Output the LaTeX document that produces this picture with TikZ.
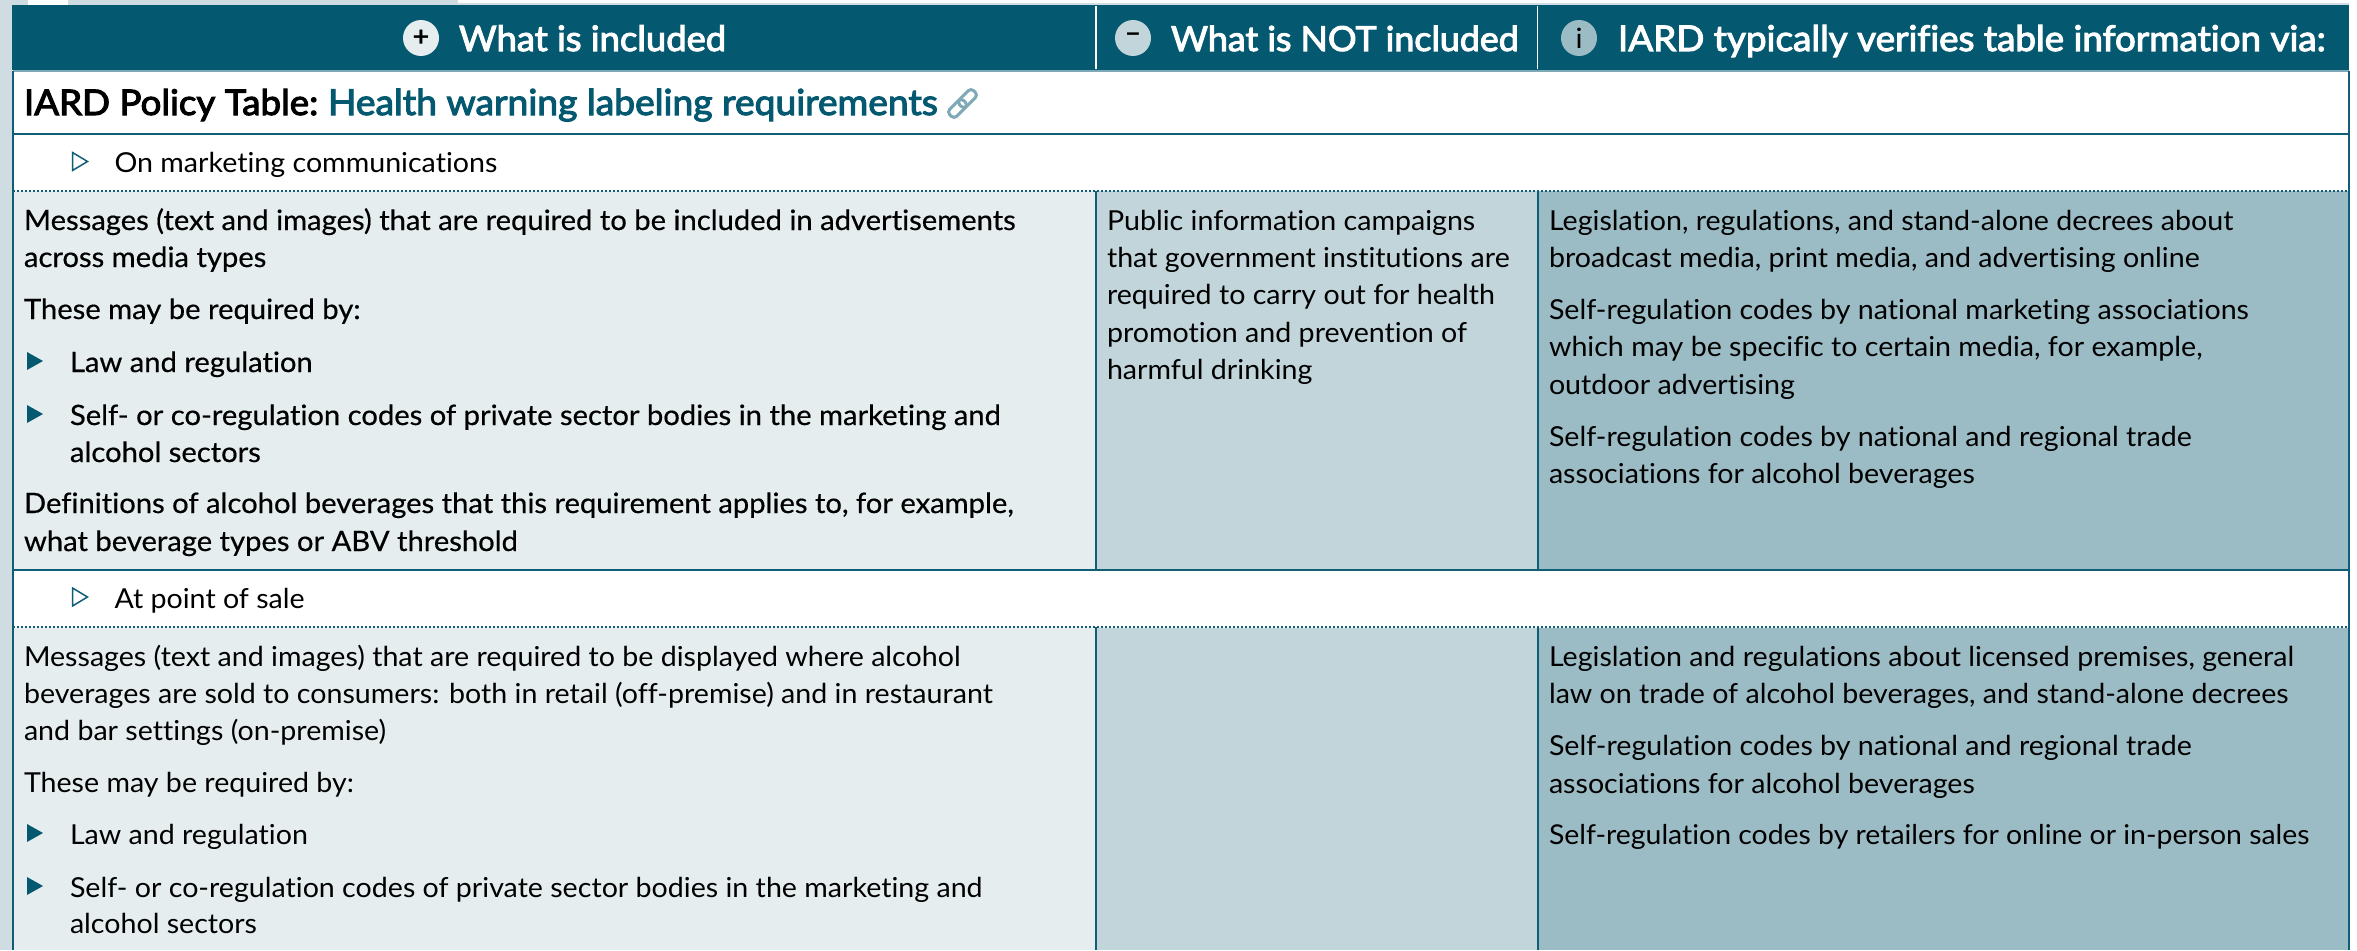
\documentclass[tikz,border=0pt]{standalone}
\usepackage{fontspec}
\setmainfont[FakeStretch=1.04,Ligatures=NoCommon]{Lato}
\newfontfamily\medfont[FakeStretch=1.04,FakeBold=0.5,Ligatures=NoCommon]{Lato}
\newfontfamily\demifont[FakeStretch=1.04,FakeBold=3,Ligatures=NoCommon]{Lato}
\definecolor{headbg}{HTML}{04586F}
\definecolor{cola}{HTML}{E5EDEF}
\definecolor{colb}{HTML}{C1D5DB}
\definecolor{colc}{HTML}{9BBBC5}
\definecolor{edge}{HTML}{0F5E76}
\definecolor{soft}{HTML}{7FA9B7}
\definecolor{strip}{HTML}{CFDDE2}
\newcommand\tl[4]{\node[txt] (#1) at (#2,#3) {#4};}
\newcommand\tm[4]{\node[txt,txtmed] (#1) at (#2,#3) {#4};}
\newcommand\bul[2]{\fill[headbg] (#1,#2-9) -- (#1+16,#2) -- (#1,#2+9) -- cycle;}
\newcommand\hollow[2]{\draw[edge,line width=1.5pt,line join=miter] (#1,#2-9) -- (#1+15,#2) -- (#1,#2+9) -- cycle;}
\tikzset{
 x=1pt,y=-1pt,
 txt/.style={anchor=base west,inner sep=0pt,outer sep=0pt,font=\fontsize{27.5}{30}\selectfont,text=black},
 txtmed/.style={font=\fontsize{28.05}{30}\medfont},
 headtxt/.style={anchor=base west,inner sep=0pt,outer sep=0pt,font=\fontsize{35}{38}\demifont,text=white},
 titletxt/.style={anchor=base west,inner sep=0pt,outer sep=0pt,font=\fontsize{35.3}{38}\demifont},
 badge/.style={circle,minimum size=36pt,inner sep=0pt,font=\fontsize{28}{30}\bfseries,text=black},
 rule/.style={edge,line width=2pt},
 dots/.style={edge,line width=2pt,dash pattern=on 2pt off 2pt},
}
\begin{document}
\begin{tikzpicture}
\useasboundingbox (0,0) rectangle (2357,950);
\fill[white] (0,0) rectangle (2357,950);
% page behind the table
\fill[strip] (0,0) rectangle (12,950);
\fill[strip] (0,0) rectangle (28,5);
\fill[strip] (68,0) rectangle (458,5);
\fill[strip] (458,3.5) rectangle (2349,5);
% header band
\fill[headbg] (12,5) rectangle (2349,70);
\draw[soft,line width=2pt] (13,70.5) -- (2349,70.5);
\draw[white,line width=1.5pt] (1096,6) -- (1096,69);
\draw[white,line width=1.5pt] (1537.5,6) -- (1537.5,69);
% column fills
\fill[cola] (13,191) rectangle (1096,569);
\fill[colb] (1096,191) rectangle (1537.5,569);
\fill[colc] (1537.5,191) rectangle (2348,569);
\fill[cola] (13,628) rectangle (1096,950);
\fill[colb] (1096,628) rectangle (1537.5,950);
\fill[colc] (1537.5,628) rectangle (2348,950);
% rules
\draw[rule] (13,134) -- (2348,134);
\draw[rule] (13,569.5) -- (2348,569.5);
\draw[dots] (13,191) -- (2348,191);
\draw[dots] (13,627) -- (2348,627);
\draw[edge,line width=2pt] (13,71) -- (13,950);
\draw[edge,line width=2pt] (2348.5,71) -- (2348.5,950);
\draw[rule] (1096,191) -- (1096,569);
\draw[rule] (1537.5,191) -- (1537.5,569);
\draw[rule] (1096,627) -- (1096,950);
\draw[rule] (1537.5,627) -- (1537.5,950);
% header
\node[badge,fill=cola] (b1) at (421,38) {+};
\node[badge,fill=colb] (b2) at (1133,38) {--};
\node[badge,fill=colc,font=\fontsize{28}{30}\selectfont] (b3) at (1579,38) {i};
\node[headtxt] (h1) at (459,51) {What is included};
\node[headtxt,font=\fontsize{34.4}{38}\demifont] (h2) at (1171,51) {What is NOT included};
\node[headtxt,font=\fontsize{35.4}{38}\demifont] (h3) at (1618,51) {IARD typically verifies table information via:};
% title
\node[titletxt,text=black] (t1) at (24,115) {IARD Policy Table:};
\node[titletxt,text=headbg,font=\fontsize{35.8}{38}\demifont] (t2) at (328,115) {Health warning labeling requirements};
\begin{scope}[shift={(962.5,103.5)},rotate=45,soft,line width=3pt]
 \draw[rounded corners=4pt] (-17,-5) rectangle (3,5);
 \draw[rounded corners=4pt] (-3,-5) rectangle (17,5);
\end{scope}
% section 1
\hollow{72.5}{161.5}
\tl{s1}{114.5}{172}{On marketing communications}
\tm{a1}{24}{230}{Messages (text and images) that are required to be included in advertisements}
\tm{a2}{24}{267}{across media types}
\tm{a3}{24}{319}{These may be required by:}
\bul{27}{361}
\tm{a4}{70}{372}{Law and regulation}
\bul{27}{414}
\tm{a5}{70}{425}{Self- or co-regulation codes of private sector bodies in the marketing and}
\tm{a6}{70}{462}{alcohol sectors}
\tm{a7}{24}{513}{Definitions of alcohol beverages that this requirement applies to, for example,}
\tm{a8}{24}{551}{what beverage types or ABV threshold}
\tl{m1}{1107}{230}{Public information campaigns}
\tl{m2}{1107}{267}{that government institutions are}
\tl{m3}{1107}{304}{required to carry out for health}
\tl{m4}{1107}{342}{promotion and prevention of}
\tl{m5}{1107}{379}{harmful drinking}
\tl{c1}{1549}{230}{Legislation, regulations, and stand-alone decrees about}
\tl{c2}{1549}{267}{broadcast media, print media, and advertising online}
\tl{c3}{1549}{319}{Self-regulation codes by national marketing associations}
\tl{c4}{1549}{356}{which may be specific to certain media, for example,}
\tl{c5}{1549}{394}{outdoor advertising}
\tl{c6}{1549}{446}{Self-regulation codes by national and regional trade}
\tl{c7}{1549}{483}{associations for alcohol beverages}
% section 2
\hollow{72.5}{597}
\tl{s2}{114.5}{608}{At point of sale}
\tl{d1}{24}{666}{Messages (text and images) that are required to be displayed where alcohol}
\tl{d2}{24}{703}{beverages are sold to consumers: both in retail (off-premise) and in restaurant}
\tl{d3}{24}{740}{and bar settings (on-premise)}
\tl{d4}{24}{792}{These may be required by:}
\bul{27}{833}
\tl{d5}{70}{844}{Law and regulation}
\bul{27}{886}
\tl{d6}{70}{897}{Self- or co-regulation codes of private sector bodies in the marketing and}
\tl{d7}{70}{933}{alcohol sectors}
\tl{e1}{1549}{666}{Legislation and regulations about licensed premises, general}
\tl{e2}{1549}{703}{law on trade of alcohol beverages, and stand-alone decrees}
\tl{e3}{1549}{755}{Self-regulation codes by national and regional trade}
\tl{e4}{1549}{793}{associations for alcohol beverages}
\node[txt,font=\fontsize{27.3}{30}\selectfont] (e5) at (1549,844) {Self-regulation codes by retailers for online or in-person sales};
\end{tikzpicture}
\end{document}
